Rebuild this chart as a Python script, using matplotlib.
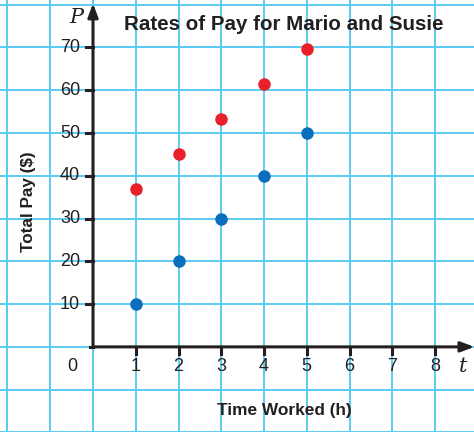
import matplotlib
matplotlib.use('Agg')
import matplotlib.pyplot as plt

# data
hours = [1, 2, 3, 4, 5]
mario_pay = [37.0, 45.2, 53.3, 61.5, 69.6]
susie_pay = [10, 20, 30, 40, 50]
x_ticks = [1, 2, 3, 4, 5, 6, 7, 8]
y_ticks = [10, 20, 30, 40, 50, 60, 70]

plt.rcParams['font.family'] = ['Liberation Sans', 'DejaVu Sans']

grid_col = '#5ccbf3'
axis_col = '#231f20'

fig = plt.figure(figsize=(4.74, 4.32), dpi=100)
ax = fig.add_axes([0, 0, 1, 1])
ax.set_xlim(-2.175, 8.91)
ax.set_ylim(-19.9, 81.1)
ax.axis('off')

# graph paper grid
for gx in range(-2, 9):
    ax.axvline(gx, color=grid_col, lw=1.4, zorder=0)
for gy in range(-20, 81, 10):
    ax.axhline(gy, color=grid_col, lw=1.4, zorder=0)

# axes with arrows
ax.annotate('', xy=(8.92, 0), xytext=(0, 0),
            arrowprops=dict(arrowstyle='-|>,head_length=0.8,head_width=0.3',
                            color=axis_col, lw=2.2, shrinkA=0, shrinkB=0), zorder=3)
ax.annotate('', xy=(0, 80.3), xytext=(0, 0),
            arrowprops=dict(arrowstyle='-|>,head_length=0.8,head_width=0.3',
                            color=axis_col, lw=2.2, shrinkA=0, shrinkB=0), zorder=3)
ax.plot([-0.06, 0], [0, 0], color=axis_col, lw=2.2, solid_capstyle='projecting')

# ticks
for t in x_ticks:
    ax.plot([t, t], [0, -1.6], color=axis_col, lw=2.2, zorder=3)
    ax.text(t, -4.7, str(t), ha='center', va='center', fontsize=13, color=axis_col)
for t in y_ticks:
    ax.plot([-0.16, 0], [t, t], color=axis_col, lw=2.2, zorder=3)
    ax.text(-0.3, t, str(t), ha='right', va='center', fontsize=13, color=axis_col)
ax.text(-0.48, -4.7, '0', ha='center', va='center', fontsize=13, color=axis_col)

# axis letters
ax.text(-0.4, 77.1, 'P', ha='center', va='center', fontsize=15, style='italic',
        family='DejaVu Serif', color=axis_col)
ax.text(8.65, -4.6, 't', ha='center', va='center', fontsize=15, style='italic',
        family='DejaVu Serif', color=axis_col)

# titles
title = ax.text(4.47, 75.3, 'Rates of Pay for Mario and Susie', ha='center', va='center',
                fontsize=17, fontweight='bold', color=axis_col)
ylab = ax.text(-1.5, 33.9, 'Total Pay ($)', ha='center', va='center', rotation=90,
               fontsize=13, fontweight='bold', color=axis_col)
xlab = ax.text(4.47, -14.9, 'Time Worked (h)', ha='center', va='center',
               fontsize=13, fontweight='bold', color=axis_col)

# squeeze text sizes to match the narrow font widths in the reference
renderer = fig.canvas.get_renderer()
for txt, target in [(title, 320), (xlab, 134)]:
    w = txt.get_window_extent(renderer).width
    txt.set_fontsize(txt.get_fontsize() * target / w)
h = ylab.get_window_extent(renderer).height
ylab.set_fontsize(ylab.get_fontsize() * 100 / h)

# points
ax.plot(hours, mario_pay, 'o', color='#e8202a', markersize=8, zorder=4)
ax.plot(hours, susie_pay, 'o', color='#0a6ebd', markersize=8, zorder=4)

fig.savefig('out.png', dpi=100)
